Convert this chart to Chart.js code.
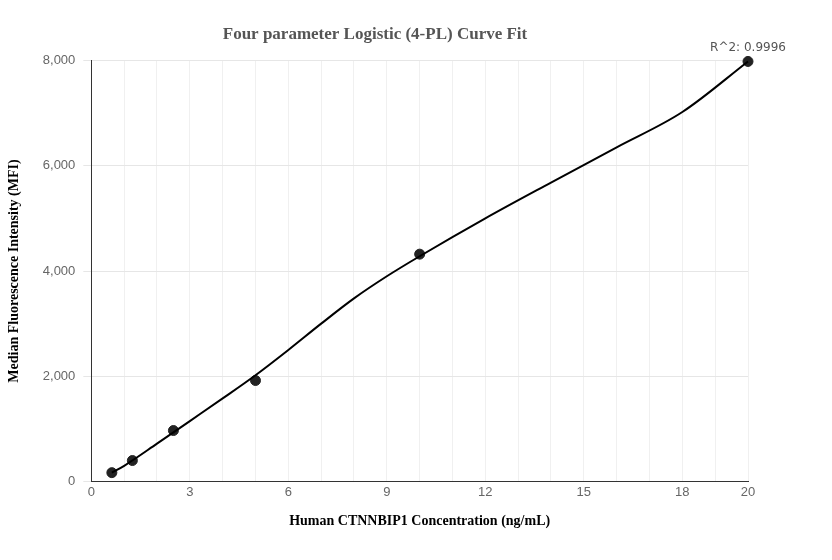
<!DOCTYPE html>
<html><head><script src="https://cdn.jsdelivr.net/npm/chart.js"></script>
<style>body{margin:0;background:#fff}</style></head>
<body><div style="width:832px;height:560px"><canvas id="c"></canvas></div>
<script>
const pointX=[0.625,1.25,2.5,5,10,20];
const pointY=[170,400,970,1920,4320,7980];
const curveX=[0.625,1,2,3,4,5,6,7,8,9,10,12,14,16,18,20];
const curveY=[170,300,720,1150,1580,2020,2500,3000,3480,3900,4280,5000,5680,6350,7020,7980];
const r2Text="R^2: 0.9996";
const lbl={id:'lbl',afterDatasetsDraw(ch){const {ctx,scales:{x,y}}=ch;ctx.save();ctx.font='12px "DejaVu Sans", sans-serif';ctx.fillStyle='#555';ctx.textAlign='center';ctx.fillText(r2Text,x.getPixelForValue(20),y.getPixelForValue(7980)-10);ctx.restore();}};
new Chart(document.getElementById('c'),{type:'scatter',
data:{datasets:[
{type:'line',data:curveX.map((v,i)=>({x:v,y:curveY[i]})),borderColor:'#000',borderWidth:2,pointRadius:0,cubicInterpolationMode:'monotone',fill:false,clip:false},
{data:pointX.map((v,i)=>({x:v,y:pointY[i]})),backgroundColor:'#222',borderColor:'#222',pointRadius:5,clip:false}]},
options:{responsive:true,maintainAspectRatio:false,animation:false,
layout:{padding:{left:2,right:84,top:14,bottom:26}},
plugins:{legend:{display:false},tooltip:{enabled:false},
title:{display:true,text:'Four parameter Logistic (4-PL) Curve Fit',color:'#555',font:{family:'"Liberation Serif", serif',size:17,weight:'bold'},padding:{top:10,bottom:16}}},
scales:{x:{type:'linear',min:0,max:20,ticks:{stepSize:1,autoSkip:false,maxRotation:0,color:'#666',font:{size:13},callback:v=>v%3===0||v===20?v:''},grid:{color:'#f0f0f0',drawTicks:false},border:{color:'#333'},
title:{display:true,text:'Human CTNNBIP1 Concentration (ng/mL)',color:'#000',font:{family:'"Liberation Serif", serif',size:14,weight:'bold'},padding:{top:10}}},
y:{min:0,max:8000,ticks:{stepSize:2000,color:'#666',font:{size:13},padding:8,callback:v=>v.toLocaleString('en-US')},grid:{color:'#e6e6e6'},border:{color:'#333'},
title:{display:true,text:'Median Fluorescence Intensity (MFI)',color:'#000',font:{family:'"Liberation Serif", serif',size:14,weight:'bold'},padding:{bottom:12}}}}},
plugins:[lbl]});
</script></body></html>
